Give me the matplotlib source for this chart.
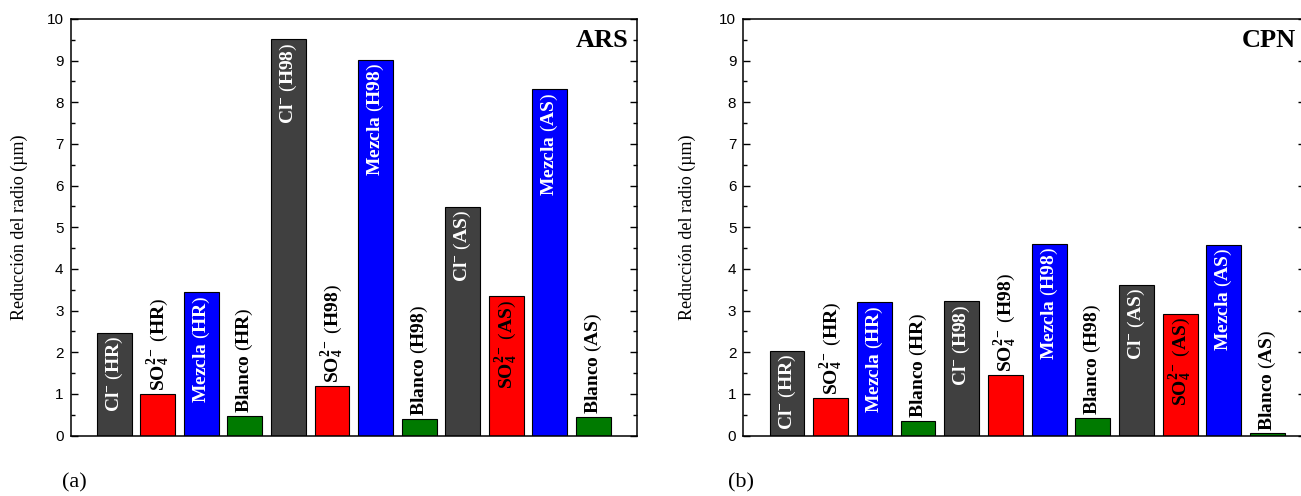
import matplotlib
matplotlib.use("Agg")
import matplotlib.pyplot as plt
from matplotlib.ticker import MultipleLocator

plt.rcParams["mathtext.fontset"] = "custom"
plt.rcParams["mathtext.rm"] = "Liberation Serif"
plt.rcParams["mathtext.bf"] = "Liberation Serif:bold"
plt.rcParams["mathtext.it"] = "Liberation Serif:italic"

# Exposure conditions and ion treatments (bars ordered ion-within-condition)
conditions = ["HR", "H98", "AS"]
ions = ["Cl^{-}", "SO_{4}^{2-}", "Mezcla", "Blanco"]
ion_colors = ["#404040", "#ff0000", "#0000ff", "#007a00"]

# Radius reduction (µm)
ars_values = [2.47, 1.00, 3.44, 0.46,
              9.52, 1.18, 9.02, 0.40,
              5.49, 3.34, 8.31, 0.44]
cpn_values = [2.04, 0.91, 3.20, 0.35,
              3.22, 1.45, 4.60, 0.43,
              3.61, 2.92, 4.58, 0.05]

# whether the rotated label sits inside the bar or above it
ars_inside = [True, False, True, False,
              True, False, True, False,
              True, True, True, False]
cpn_inside = [True, False, True, False,
              True, False, True, False,
              True, True, True, False]

panel_titles = ["ARS", "CPN"]
panel_tags = ["(a)", "(b)"]
ylabel = "Reducción del radio (µm)"

W, H = 1301, 496
fig = plt.figure(figsize=(W / 100, H / 100), dpi=100)
bottom = (H - 435.5) / H
height = 416.5 / H
axL = fig.add_axes([70.5 / W, bottom, 566.5 / W, height])
axR = fig.add_axes([743.3 / W, bottom, 561.5 / W, height])


def bar_label(ion, cond):
    return rf"$\mathbf{{{ion}}}\ \mathrm{{(}}\mathbf{{{cond}}}\mathrm{{)}}$"


def draw_panel(ax, values, inside, title, xmax, ylab_x):
    n = len(values)
    xs = list(range(1, n + 1))
    colors = [ion_colors[i % 4] for i in range(n)]
    ax.bar(xs, values, width=0.8, color=colors, edgecolor="black",
           linewidth=0.8, zorder=2)
    for i, (x, v) in enumerate(zip(xs, values)):
        ion = ions[i % 4]
        cond = conditions[i // 4]
        txt = bar_label(ion, cond)
        if inside[i]:
            col = "white" if (i % 4) in (0, 2) else "black"
            ax.text(x, v - 0.08, txt, rotation=90, ha="center", va="top",
                    fontsize=14, color=col, zorder=3)
        else:
            ax.text(x, v + 0.07, txt, rotation=90, ha="center", va="bottom",
                    fontsize=14, color="black", zorder=3)
    ax.set_xlim(0, xmax)
    ax.set_ylim(0, 10)
    ax.yaxis.set_major_locator(MultipleLocator(1))
    ax.yaxis.set_minor_locator(MultipleLocator(0.5))
    ax.tick_params(axis="y", which="both", direction="in", left=True,
                   right=True, width=1.0, pad=5)
    ax.tick_params(axis="y", which="major", length=5)
    ax.tick_params(axis="y", which="minor", length=3)
    ax.tick_params(axis="x", bottom=False, labelbottom=False)
    for lab in ax.get_yticklabels():
        lab.set_fontfamily("Liberation Sans")
        lab.set_fontsize(11)
    for sp in ax.spines.values():
        sp.set_linewidth(1.1)
    ax.set_ylabel(ylabel, fontfamily="Liberation Serif", fontsize=13)
    ax.yaxis.set_label_coords(ylab_x, 0.5)
    ax.text(0.985, 0.975, title, transform=ax.transAxes, ha="right",
            va="top", fontfamily="Liberation Serif", fontweight="bold",
            fontsize=19)


draw_panel(axL, ars_values, ars_inside, panel_titles[0], 13.0, -0.075)
draw_panel(axR, cpn_values, cpn_inside, panel_titles[1], 12.855, -0.084)

fig.text(62 / W, 1 - 483 / H, panel_tags[0], ha="left", va="center",
         fontfamily="Liberation Serif", fontsize=16)
fig.text(728 / W, 1 - 483 / H, panel_tags[1], ha="left", va="center",
         fontfamily="Liberation Serif", fontsize=16)

fig.savefig("out.png", dpi=100)
